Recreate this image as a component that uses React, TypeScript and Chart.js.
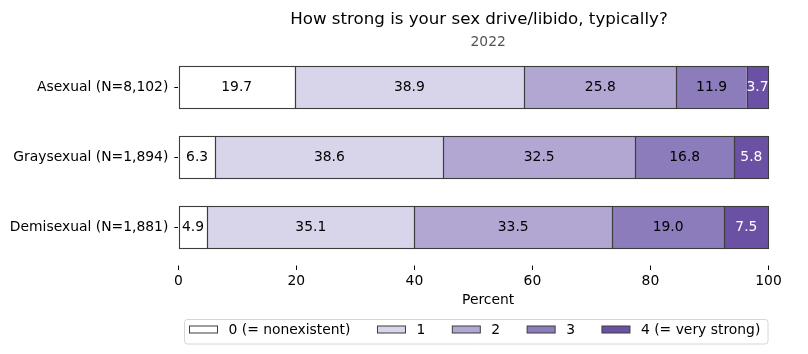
import React, { useEffect, useRef } from "react";
import { Chart, registerables } from "chart.js";

Chart.register(...registerables);

const categories = ["Asexual (N=8,102)", "Graysexual (N=1,894)", "Demisexual (N=1,881)"];
const seriesLabels = ["0 (= nonexistent)", "1", "2", "3", "4 (= very strong)"];
const level0 = [19.7, 6.3, 4.9];
const level1 = [38.9, 38.6, 35.1];
const level2 = [25.8, 32.5, 33.5];
const level3 = [11.9, 16.8, 19.0];
const level4 = [3.7, 5.8, 7.5];
const seriesValues = [level0, level1, level2, level3, level4];
const xTicks = [0, 20, 40, 60, 80, 100];
const titleText = "How strong is your sex drive/libido, typically?";
const subtitleText = "2022";
const xAxisTitle = "Percent";

const fillColors = ["#ffffff", "#d8d4e9", "#b2a6d3", "#8d7cbc", "#6a51a3"];
const labelColors = ["#000000", "#000000", "#000000", "#000000", "#ffffff"];
const EDGE = "#3d3d3d";
const FONT = "'DejaVu Sans', sans-serif";
const FS = 13.89;
const TFS = 16.67;

const W = 792;
const H = 338;

const barEdgePlugin = {
  id: "barEdges",
  afterDatasetsDraw(chart: any) {
    const ctx = chart.ctx;
    ctx.save();
    ctx.strokeStyle = EDGE;
    ctx.lineWidth = 1.1;
    chart.data.datasets.forEach((ds: any, i: number) => {
      const meta = chart.getDatasetMeta(i);
      meta.data.forEach((el: any) => {
        const p = el.getProps(["x", "y", "base", "height"], true);
        const x0 = Math.round(Math.min(p.x, p.base)) + 0.5;
        const x1 = Math.round(Math.max(p.x, p.base)) + 0.5;
        const y0 = Math.round(p.y - p.height / 2) + 0.5;
        const y1 = Math.round(p.y + p.height / 2) + 0.5;
        ctx.strokeRect(x0, y0, x1 - x0, y1 - y0);
      });
    });
    ctx.restore();
  },
};

const barLabelPlugin = {
  id: "barLabels",
  afterDatasetsDraw(chart: any) {
    const ctx = chart.ctx;
    ctx.save();
    ctx.font = `${FS}px ${FONT}`;
    ctx.textAlign = "center";
    ctx.textBaseline = "middle";
    chart.data.datasets.forEach((ds: any, i: number) => {
      const meta = chart.getDatasetMeta(i);
      meta.data.forEach((el: any, j: number) => {
        const p = el.getProps(["x", "y", "base"], true);
        const cx = (p.x + p.base) / 2;
        ctx.fillStyle = labelColors[i];
        ctx.fillText(Number(ds.data[j]).toFixed(1), cx, p.y);
      });
    });
    ctx.restore();
  },
};

const titlePlugin = {
  id: "titles",
  afterDraw(chart: any) {
    const ctx = chart.ctx;
    const ca = chart.chartArea;
    ctx.save();
    ctx.textAlign = "center";
    ctx.textBaseline = "alphabetic";
    ctx.fillStyle = "#000000";
    ctx.font = `${TFS}px ${FONT}`;
    ctx.fillText(titleText, 471, 16.3);
    ctx.fillStyle = "#555555";
    ctx.font = `${FS}px ${FONT}`;
    ctx.fillText(subtitleText, (ca.left + ca.right) / 2, 38);
    ctx.restore();
  },
};

const legendPlugin = {
  id: "customLegend",
  afterDraw(chart: any) {
    const ctx = chart.ctx;
    ctx.save();
    const fx = 176, fy = 311, fw = 584, fh = 25;
    const r = 3;
    ctx.beginPath();
    ctx.moveTo(fx + r, fy + 0.5);
    ctx.arcTo(fx + fw, fy + 0.5, fx + fw, fy + fh, r);
    ctx.arcTo(fx + fw, fy + fh, fx, fy + fh, r);
    ctx.arcTo(fx + 0.5, fy + fh, fx + 0.5, fy, r);
    ctx.arcTo(fx + 0.5, fy + 0.5, fx + fw, fy + 0.5, r);
    ctx.closePath();
    ctx.fillStyle = "rgba(255,255,255,0.8)";
    ctx.fill();
    ctx.strokeStyle = "#d6d6d6";
    ctx.lineWidth = 1;
    ctx.stroke();

    ctx.font = `${FS}px ${FONT}`;
    ctx.textAlign = "left";
    ctx.textBaseline = "middle";
    let x = 181.5;
    const boxW = 28, boxH = 7;
    const cy = 322;
    seriesLabels.forEach((lab, i) => {
      ctx.fillStyle = fillColors[i];
      ctx.fillRect(x, cy - boxH / 2 - 0.5, boxW, boxH);
      ctx.strokeStyle = EDGE;
      ctx.lineWidth = 1;
      ctx.strokeRect(x, cy - boxH / 2 - 0.5, boxW, boxH);
      ctx.fillStyle = "#000000";
      const tx = x + boxW + 11;
      ctx.fillText(lab, tx, cy + 0.5);
      x = tx + ctx.measureText(lab).width + 27;
    });
    ctx.restore();
  },
};

export default function App() {
  const ref = useRef<HTMLCanvasElement | null>(null);

  useEffect(() => {
    if (!ref.current) return;
    const chart = new Chart(ref.current, {
      type: "bar",
      data: {
        labels: categories,
        datasets: seriesValues.map((vals, i) => ({
          label: seriesLabels[i],
          data: vals,
          backgroundColor: fillColors[i],
          borderWidth: 0,
          barPercentage: 0.6,
          categoryPercentage: 1.0,
        })),
      },
      options: {
        indexAxis: "y",
        responsive: false,
        animation: false,
        devicePixelRatio: 1,
        layout: { padding: { top: 44, right: 2, left: 0, bottom: 0 } },
        plugins: {
          legend: { display: false },
          title: { display: false },
          tooltip: { enabled: false },
        },
        scales: {
          x: {
            type: "linear",
            stacked: true,
            min: 0,
            max: 105,
            afterBuildTicks: (scale: any) => {
              scale.ticks = xTicks.map((v) => ({ value: v }));
            },
            afterFit: (scale: any) => {
              scale.height = 84;
            },
            border: { display: false },
            grid: {
              display: true,
              drawOnChartArea: false,
              drawTicks: true,
              tickLength: 8,
              tickBorderDash: [0, 3.5, 4.5, 30],
              tickColor: "#000000",
              tickWidth: 1,
            },
            ticks: {
              font: { family: FONT, size: FS },
              color: "#000000",
              padding: 3,
              maxRotation: 0,
              autoSkip: false,
            },
            title: {
              display: true,
              text: xAxisTitle,
              font: { family: FONT, size: FS },
              color: "#000000",
              padding: { top: 0, bottom: 37 },
            },
          },
          y: {
            type: "category",
            stacked: true,
            afterFit: (scale: any) => {
              scale.width = 170.3;
            },
            border: { display: false },
            grid: {
              display: true,
              offset: false,
              drawOnChartArea: false,
              drawTicks: true,
              tickLength: 4,
              tickColor: "#000000",
            },
            ticks: {
              font: { family: FONT, size: FS },
              color: "#000000",
              padding: 6,
            },
          },
        },
      } as any,
      plugins: [barEdgePlugin, barLabelPlugin, titlePlugin, legendPlugin],
    });
    return () => chart.destroy();
  }, []);

  return (
    <div style={{ width: W, height: H }}>
      <canvas ref={ref} width={W} height={H} style={{ display: "block", width: W, height: H }} />
    </div>
  );
}
